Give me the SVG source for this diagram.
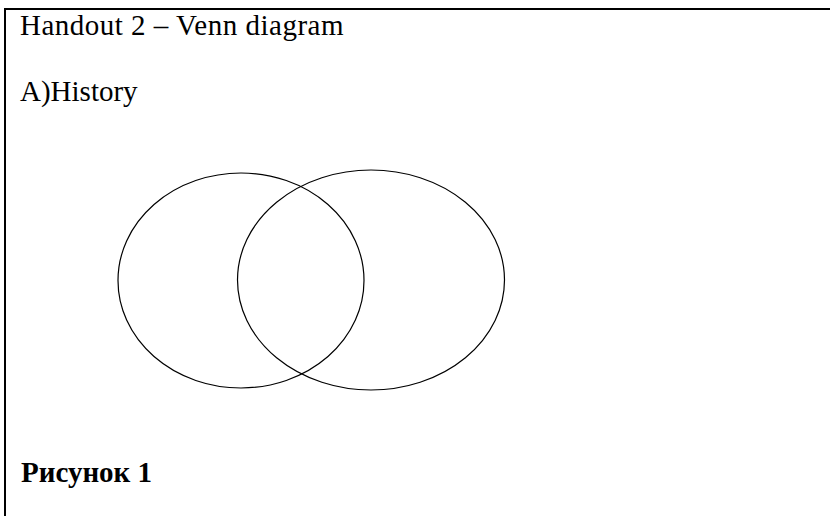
<svg xmlns="http://www.w3.org/2000/svg" width="830" height="516" viewBox="0 0 830 516">
<style>
.t{font-family:"Liberation Serif","Times New Roman",serif;font-size:29px;fill:#000}
.b{font-weight:bold}
.c{fill:none;stroke:#000;stroke-width:1.2}
</style>
<rect width="830" height="516" fill="#fff"/>
<path d="M5,516 V9 H830" fill="none" stroke="#000" stroke-width="2"/>
<g id="title"><text class="t" x="20" y="35" letter-spacing="0.5">Handout 2 – Venn diagram</text></g>
<g id="subtitle"><text class="t" x="20" y="101">A)History</text></g>
<g id="circleA"><ellipse class="c" cx="241" cy="280.5" rx="123" ry="107.5"/></g>
<g id="circleB"><ellipse class="c" cx="371" cy="280" rx="133.5" ry="110"/></g>
<g id="connectors"></g>
<g id="caption"><text class="t b" x="21" y="482">Рисунок 1</text></g>
</svg>
